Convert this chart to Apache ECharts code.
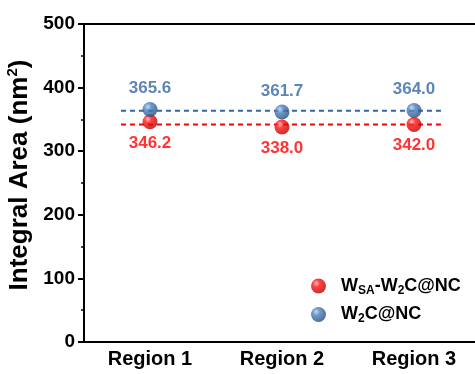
<!DOCTYPE html>
<html><head><meta charset="utf-8">
<script src="https://cdn.jsdelivr.net/npm/echarts@6/dist/echarts.min.js"></script>
<style>html,body{margin:0;padding:0;background:#fff}#c{width:475px;height:374px}</style>
</head><body><div id="c"></div>
<script>
var categories = ['Region 1', 'Region 2', 'Region 3'];
var wsaValues = [346.2, 338.0, 342.0];
var w2cValues = [365.6, 361.7, 364.0];
var yTicks = [0, 100, 200, 300, 400, 500];
var lineSpan = [0.78, 3.22];

function mean(a){ return a.reduce(function(s,v){return s+v;},0)/a.length; }
function sphere(c0,c1,c2){
  return {type:'radial',x:0.35,y:0.32,r:0.7,colorStops:[{offset:0,color:c0},{offset:0.35,color:c1},{offset:1,color:c2}]};
}
var FONT = 'Liberation Sans, Arial, sans-serif';
var redC = '#ff0000', blueC = '#3466a3';
var chart = echarts.init(document.getElementById('c'), null, {renderer:'canvas'});
chart.setOption({
  animation:false,
  grid:{left:84, width:396, top:24, bottom:32, outerBoundsMode:'none', containLabel:false,
    show:true, borderColor:'#000', borderWidth:2, backgroundColor:'transparent'},
  xAxis:[{
    type:'category', data:categories, boundaryGap:true,
    axisLine:{lineStyle:{color:'#000', width:2}},
    axisTick:{alignWithLabel:true, length:5, lineStyle:{color:'#000', width:2}},
    axisLabel:{color:'#000', fontFamily:FONT, fontWeight:'bold', fontSize:20, margin:7},
    splitLine:{show:false}
  },{
    type:'value', min:0.5, max:3.5, show:false
  }],
  yAxis:{
    type:'value', min:yTicks[0], max:yTicks[yTicks.length-1], interval:100,
    name:'{a|Integral Area (nm}{s|2}{a|)}', nameLocation:'middle', nameGap:50, nameRotate:90,
    nameTextStyle:{padding:[0,0,0,16], rich:{
      a:{fontFamily:FONT, fontWeight:'bold', fontSize:26, color:'#000'},
      s:{fontFamily:FONT, fontWeight:'bold', fontSize:15, color:'#000', verticalAlign:'top', padding:[0,0,13,0]}
    }},
    axisLine:{show:true, lineStyle:{color:'#000', width:2}},
    axisTick:{length:6, lineStyle:{color:'#000', width:2}},
    minorTick:{show:true, splitNumber:2, length:3, lineStyle:{color:'#000', width:1.5}},
    axisLabel:{color:'#000', fontFamily:FONT, fontWeight:'bold', fontSize:19, margin:9},
    splitLine:{show:false}
  },
  legend:{
    orient:'vertical', left:306, top:272, itemGap:9, itemWidth:15, itemHeight:15,
    icon:'circle',
    data:['wsa','w2c'],
    formatter:function(n){
      return n==='wsa' ? '{a|W}{s|SA}{a|-W}{s|2}{a|C@NC}' : '{a|W}{s|2}{a|C@NC}';
    },
    textStyle:{padding:[0,0,0,10], rich:{
      a:{fontFamily:FONT, fontWeight:'bold', fontSize:18, color:'#000'},
      s:{fontFamily:FONT, fontWeight:'bold', fontSize:12, color:'#000', padding:[9,0,0,0]}
    }}
  },
  series:[{
    name:'wsa-line', type:'line', xAxisIndex:1, symbol:'none', silent:true, z:1,
    data:[[lineSpan[0], mean(wsaValues)],[lineSpan[1], mean(wsaValues)]],
    lineStyle:{color:redC, width:2, type:[5,4]}
  },{
    name:'w2c-line', type:'line', xAxisIndex:1, symbol:'none', silent:true, z:1,
    data:[[lineSpan[0], mean(w2cValues)],[lineSpan[1], mean(w2cValues)]],
    lineStyle:{color:blueC, width:2, type:[5,4]}
  },{
    name:'wsa', type:'scatter', symbolSize:15, z:3,
    data:wsaValues,
    itemStyle:{color:sphere('#ffb0b0','#ff1010','#b80000')},
    label:{show:true, position:'bottom', distance:5, color:redC, fontFamily:FONT, fontWeight:'bold', fontSize:17,
      formatter:function(p){return p.value.toFixed(1);}}
  },{
    name:'w2c', type:'scatter', symbolSize:15, z:3,
    data:w2cValues,
    itemStyle:{color:sphere('#b8d0ee','#4b7fbd','#244c7a')},
    label:{show:true, position:'top', distance:5, color:blueC, fontFamily:FONT, fontWeight:'bold', fontSize:17,
      formatter:function(p){return p.value.toFixed(1);}}
  }]
});
</script></body></html>
